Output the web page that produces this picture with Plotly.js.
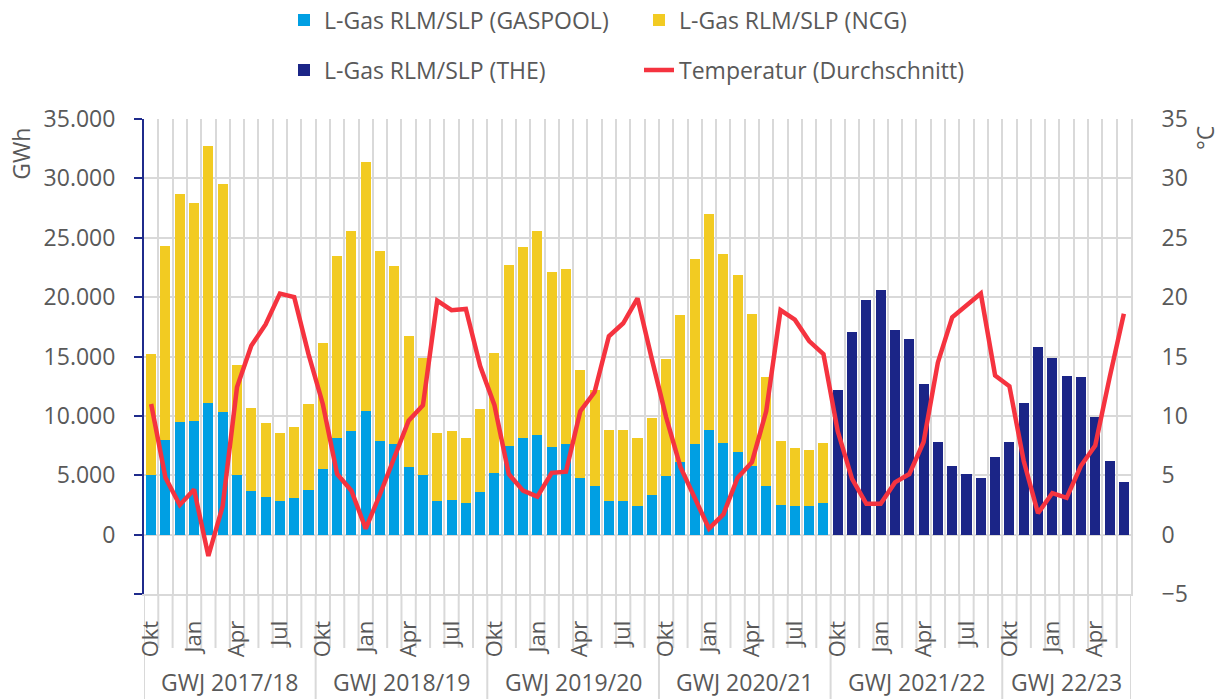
<!DOCTYPE html>
<html>
<head>
<meta charset="utf-8">
<script src="https://cdn.plot.ly/plotly-3.0.1.min.js"></script>
<style>html,body{margin:0;padding:0;background:#fff;}#chart{width:1223px;height:699px;}</style>
</head>
<body>
<div id="chart"></div>
<script>
// ---- data ----
const monthNames = ['Okt','Nov','Dez','Jan','Feb','Mär','Apr','Mai','Jun','Jul','Aug','Sep'];
const gasYears = ['GWJ 2017/18','GWJ 2018/19','GWJ 2019/20','GWJ 2020/21','GWJ 2021/22','GWJ 22/23'];
const monthsPerYear = [12,12,12,12,12,9];
const labeledMonths = ['Okt','Jan','Apr','Jul'];

// GWh
const gaspool = [5000,8000,9500,9600,11100,10300,5000,3700,3200,2800,3100,3800,
                 5500,8100,8700,10400,7900,7600,5700,5000,2800,2900,2700,3600,
                 5200,7500,8100,8400,7400,7600,4800,4100,2800,2800,2400,3300,
                 4900,6100,7600,8800,7700,7000,5800,4100,2500,2400,2400,2700];
const ncg = [10200,16300,19200,18300,21600,19200,9300,7000,6200,5800,6000,7200,
             10600,15400,16900,21000,16000,15000,11000,9900,5800,5800,5400,7000,
             10100,15200,16100,17200,14700,14800,9100,8100,6000,6000,5700,6500,
             9900,12400,15600,18200,15900,14900,12800,9200,5400,4900,4700,5000];
const the = [12200,17100,19800,20600,17200,16500,12700,7800,5800,5100,4800,6500,
             7800,11100,15800,14900,13400,13300,9900,6200,4400];
// °C
const temperature = [11.0,4.8,2.5,3.8,-1.8,2.4,12.4,15.9,17.7,20.3,20.0,15.2,
                     11.0,5.1,3.7,0.5,3.4,6.4,9.6,10.9,19.7,18.9,19.0,14.2,
                     10.9,5.1,3.7,3.2,5.2,5.3,10.4,12.0,16.7,17.8,19.9,14.8,
                     9.9,5.7,3.0,0.5,1.7,4.8,6.1,10.4,18.9,18.1,16.3,15.2,
                     8.7,4.7,2.6,2.6,4.4,5.1,7.8,14.5,18.3,19.3,20.3,13.4,
                     12.5,6.2,1.8,3.5,3.1,5.8,7.5,13.2,18.6];
const gwhTicks = [-5000,0,5000,10000,15000,20000,25000,30000,35000];
const tempTicks = [-5,0,5,10,15,20,25,30,35];

// ---- build ----
const months = [], groupStart = [];
monthsPerYear.forEach((n,g)=>{ groupStart.push(months.length); for(let i=0;i<n;i++) months.push(monthNames[i]); });
const N = months.length;
const idx = months.map((_,i)=>i);
const xOld = idx.slice(0, gaspool.length);
const xThe = idx.slice(N - the.length);

const FONT = 'Open Sans, Liberation Sans, sans-serif';
const GREY = '#595959';
const GRID = '#d9d9d9';
const fs = 23;

const fmt = v => v < 0 ? '' : String(v).replace(/\B(?=(\d{3})+(?!\d))/g, '.');

const traces = [
  {type:'bar', name:'L-Gas RLM/SLP (GASPOOL)', x:xOld, y:gaspool, marker:{color:'#009fe3'}, legend:'legend'},
  {type:'bar', name:'L-Gas RLM/SLP (NCG)', x:xOld, y:ncg, marker:{color:'#f2cb22'}, legend:'legend'},
  {type:'bar', name:'L-Gas RLM/SLP (THE)', x:xThe, y:the, marker:{color:'#1b2587'}, legend:'legend2'},
  {type:'scatter', mode:'lines', name:'Temperatur (Durchschnitt)', x:idx, y:temperature, yaxis:'y2',
   line:{color:'#f5333f', width:4.5}, legend:'legend2'}
];

const boundaries = [];
for (let i=0;i<=N;i++) boundaries.push(i-0.5);
const labIdx = idx.filter(i => labeledMonths.includes(months[i]));

const plotH = 475;
const shapes = [];
boundaries.forEach(b => {
  const isYear = groupStart.includes(b+0.5) || b === N-0.5;
  shapes.push({type:'line', xref:'x', yref:'paper', x0:b, x1:b, y0:0, y1: isYear ? -105/plotH : -54/plotH,
               line:{color:GRID, width:2}, layer:'below'});
});

const annotations = gasYears.map((t,g)=>({
  text:t, xref:'x', yref:'paper', x: groupStart[g] + (monthsPerYear[g]-1)/2, y:0, yshift:-88,
  showarrow:false, font:{family:FONT, size:fs, color:GREY}, xanchor:'center', yanchor:'middle'
}));
annotations.push({text:'GWh', xref:'paper', yref:'paper', x:-0.124, y:0.926, textangle:-90, showarrow:false,
  font:{family:FONT, size:fs, color:GREY}, xanchor:'center', yanchor:'middle'});
annotations.push({text:'°C', xref:'paper', yref:'paper', x:1.075, y:0.96, textangle:-90, showarrow:false,
  font:{family:FONT, size:fs, color:GREY}, xanchor:'center', yanchor:'middle'});

const legendBase = {orientation:'h', xref:'container', yref:'container', x:284/1223, xanchor:'left', yanchor:'middle',
    entrywidth:310, entrywidthmode:'pixels', traceorder:'normal',
    font:{family:FONT, size:fs, color:GREY}, bgcolor:'rgba(0,0,0,0)', itemclick:false, itemdoubleclick:false};

const layout = {
  width:1223, height:699,
  margin:{l:144, r:92, t:119, b:105},
  paper_bgcolor:'#fff', plot_bgcolor:'#fff',
  barmode:'stack', bargap:0.3,
  showlegend:true,
  separators:',.',
  font:{family:FONT, size:fs, color:GREY},
  xaxis:{
    range:[-0.5, N-0.5], tickmode:'array', tickvals:labIdx, ticktext:labIdx.map(i=>months[i]),
    tickangle:-90, ticks:'', ticklabelstandoff:16, showgrid:false, zeroline:false,
    showline:true, linecolor:GRID, linewidth:2,
    minor:{tickmode:'array', tickvals:boundaries, showgrid:true, gridcolor:GRID, gridwidth:2, ticks:''},
    tickfont:{family:FONT, size:22, color:GREY}, fixedrange:true
  },
  yaxis:{
    range:[-5000,35000], tickmode:'array', tickvals:gwhTicks, ticktext:gwhTicks.map(fmt),
    showgrid:true, gridcolor:GRID, gridwidth:2, zeroline:false,
    showline:true, linecolor:'#1f2b8c', linewidth:2, ticks:'outside', ticklen:8, tickwidth:2, tickcolor:'#1f2b8c',
    ticklabelstandoff:14, tickfont:{family:FONT, size:fs, color:GREY}, fixedrange:true
  },
  yaxis2:{
    range:[-5,35], overlaying:'y', side:'right', tickmode:'array', tickvals:tempTicks,
    showgrid:false, zeroline:false, showline:true, linecolor:GRID, linewidth:2, ticks:'',
    ticklabelstandoff:24, tickfont:{family:FONT, size:fs, color:GREY}, fixedrange:true
  },
  legend:Object.assign({}, legendBase, {y:1-20/699}),
  legend2:Object.assign({}, legendBase, {y:1-70/699}),
  shapes:shapes,
  annotations:annotations,
  hovermode:false
};

Plotly.newPlot('chart', traces, layout, {displayModeBar:false, staticPlot:true});
</script>
</body>
</html>
